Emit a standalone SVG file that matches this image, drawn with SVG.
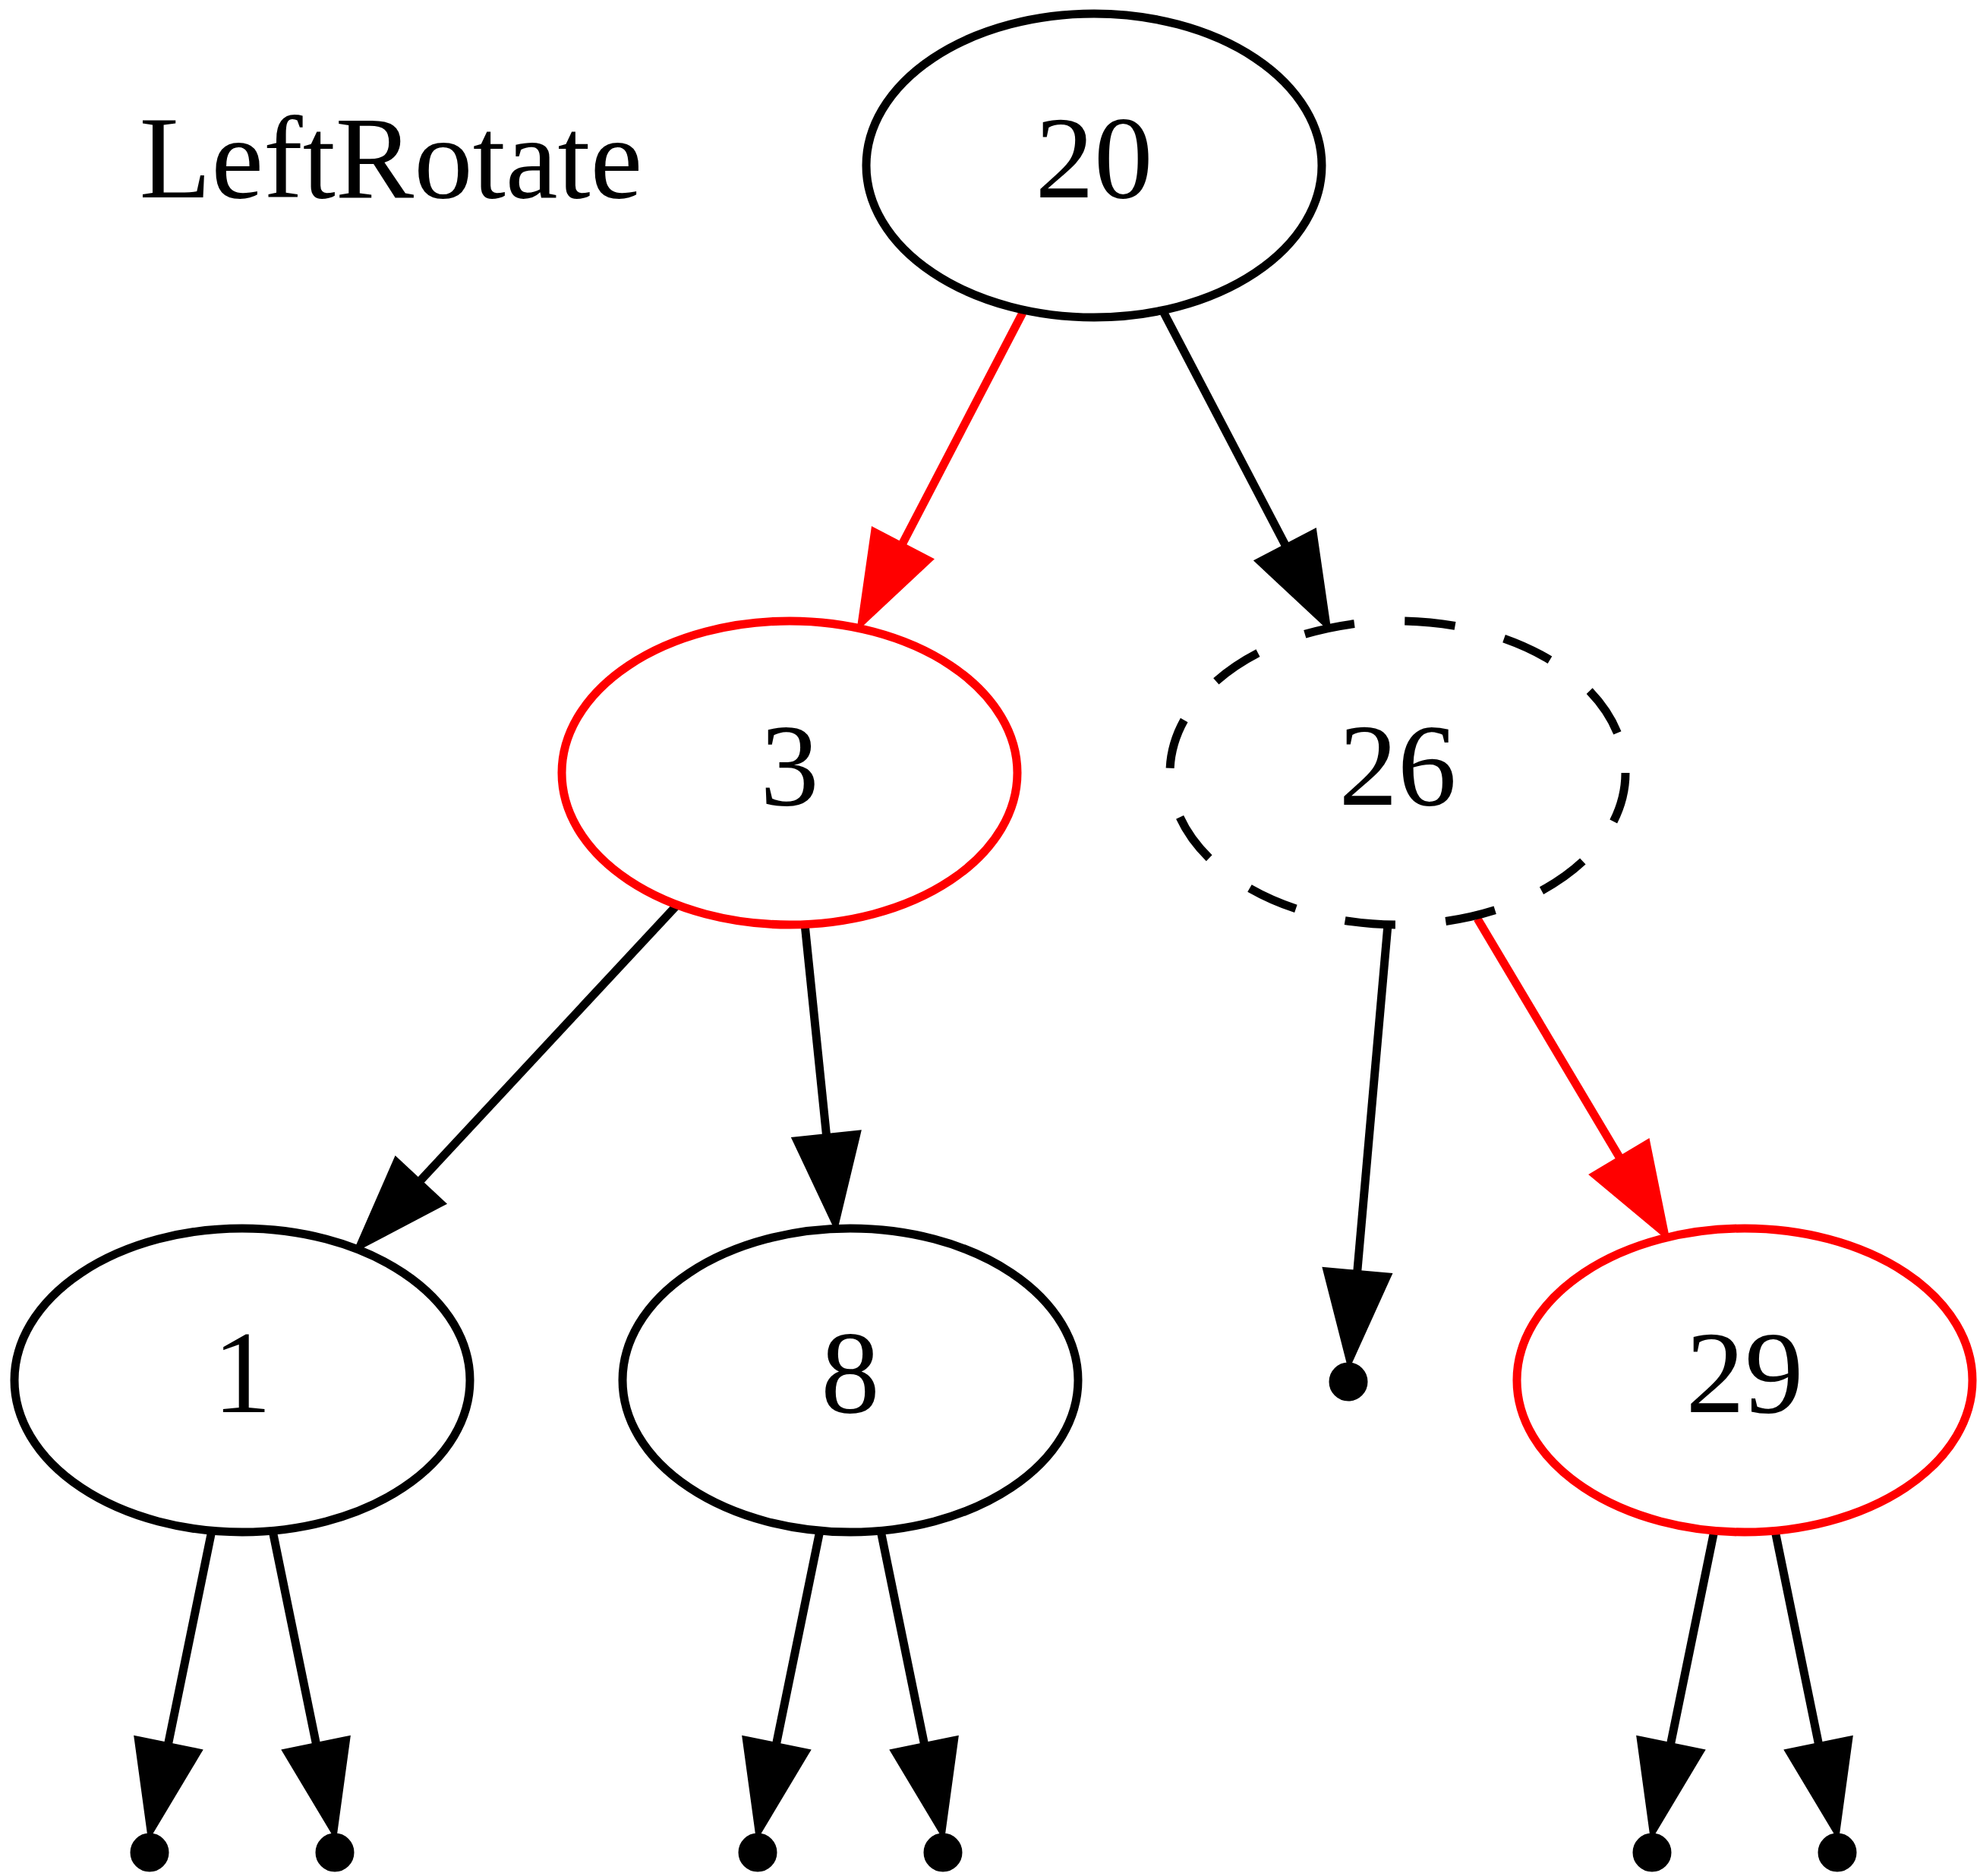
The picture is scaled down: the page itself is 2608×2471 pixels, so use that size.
<svg xmlns="http://www.w3.org/2000/svg" width="2608" height="2471" viewBox="0 0 2608 2471">
<style>
.n ellipse{fill:#fff;stroke:#000;stroke-width:11}
.n.red ellipse{stroke:#ff0000}
.n.dash ellipse{stroke-dasharray:66.6 66.6}
.n text{font-family:"Liberation Serif","Times New Roman",serif;font-size:155px;text-anchor:middle;fill:#000}
.pt{fill:#000;stroke:#000;stroke-width:11}
.e{fill:none;stroke:#000;stroke-width:11;marker-end:url(#ab)}
.e.r{stroke:#ff0000;marker-end:url(#ar)}
.title{font-family:"Liberation Serif","Times New Roman",serif;font-size:155px;text-anchor:middle;fill:#000}
</style>
<defs>
<marker id="ab" markerUnits="userSpaceOnUse" orient="auto" refX="111" refY="0" markerWidth="140" markerHeight="100" viewBox="-15 -50 140 100" overflow="visible">
<path d="M0,-39 L111,0 L0,39 Z" fill="#000" stroke="#000" stroke-width="11"/>
</marker>
<marker id="ar" markerUnits="userSpaceOnUse" orient="auto" refX="111" refY="0" markerWidth="140" markerHeight="100" viewBox="-15 -50 140 100" overflow="visible">
<path d="M0,-39 L111,0 L0,39 Z" fill="#ff0000" stroke="#ff0000" stroke-width="11"/>
</marker>
</defs>
<rect width="2608" height="2471" fill="#fff"/>
<g id="title"><text class="title" x="515" y="260">LeftRotate</text></g>
<g id="edges">
<path class="e r" d="M1347,412 L1135.7,817.9"/>
<path class="e" d="M1533,412 L1746.3,819.9"/>
<path class="e" d="M890,1194 L475.4,1639.1"/>
<path class="e" d="M1060,1217 L1100.2,1609"/>
<path class="e" d="M1828,1218 L1777.7,1789"/>
<path class="e r" d="M1946,1210 L2191.9,1623.1"/>
<path class="e" d="M279,2016 L198.6,2409.2"/>
<path class="e" d="M359,2016 L439.4,2409.2"/>
<path class="e" d="M1080,2016 L999.6,2409.2"/>
<path class="e" d="M1160,2016 L1240.4,2409.2"/>
<path class="e" d="M2258,2016 L2177.6,2409.2"/>
<path class="e" d="M2338,2016 L2418.4,2409.2"/>
</g>
<g id="n20" class="n"><ellipse cx="1441" cy="218" rx="300" ry="200"/><text x="1441" y="260">20</text></g>
<g id="n3" class="n red"><ellipse cx="1040" cy="1018" rx="300" ry="200"/><text x="1040" y="1060">3</text></g>
<g id="n26" class="n dash"><ellipse cx="1841" cy="1018" rx="300" ry="200"/><text x="1841" y="1060">26</text></g>
<g id="n1" class="n"><ellipse cx="319" cy="1818" rx="300" ry="200"/><text x="319" y="1860">1</text></g>
<g id="n8" class="n"><ellipse cx="1120" cy="1818" rx="300" ry="200"/><text x="1120" y="1860">8</text></g>
<g id="n29" class="n red"><ellipse cx="2298" cy="1818" rx="300" ry="200"/><text x="2298" y="1860">29</text></g>
<g id="nil26"><circle class="pt" cx="1776" cy="1820" r="20"/></g>
<g id="nil1a"><circle class="pt" cx="197" cy="2440" r="20"/></g>
<g id="nil1b"><circle class="pt" cx="441" cy="2440" r="20"/></g>
<g id="nil8a"><circle class="pt" cx="998" cy="2440" r="20"/></g>
<g id="nil8b"><circle class="pt" cx="1242" cy="2440" r="20"/></g>
<g id="nil29a"><circle class="pt" cx="2176" cy="2440" r="20"/></g>
<g id="nil29b"><circle class="pt" cx="2420" cy="2440" r="20"/></g>
</svg>
